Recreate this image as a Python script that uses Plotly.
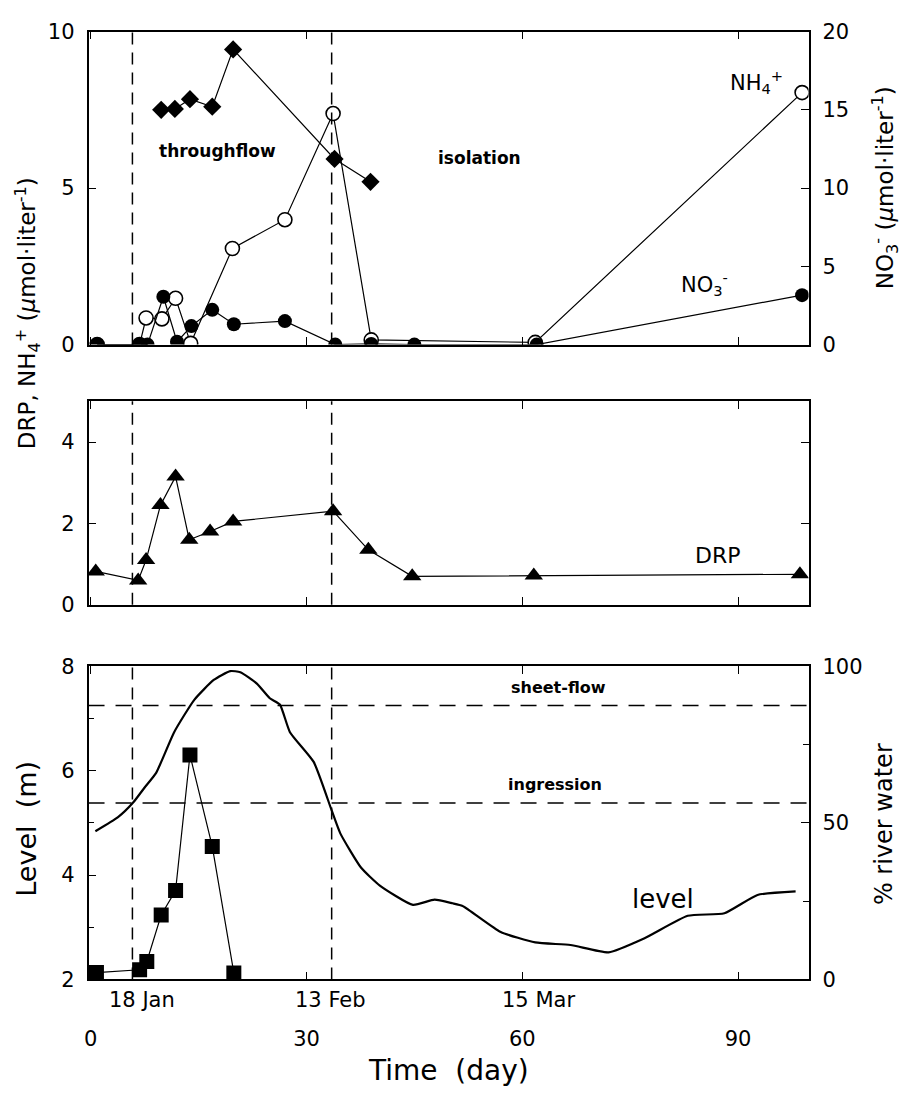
import plotly.graph_objects as go

W, H = 910, 1102
FONT = "DejaVu Sans"

# ---------------- data ----------------
# top panel
nh4_day = [0.9, 6.8, 7.7, 9.9, 11.8, 13.9, 19.7, 27.0, 33.7, 39.0, 61.8, 98.9]
nh4_val = [0.0, 0.0, 0.85, 0.82, 1.48, 0.04, 3.07, 3.99, 7.38, 0.15, 0.07, 8.05]

no3_day = [0.9, 6.8, 7.9, 10.1, 12.0, 14.0, 16.9, 19.9, 27.0, 34.0, 39.0, 45.0, 62.0, 98.9]
no3_val = [0.0, 0.0, 0.0, 3.06, 0.18, 1.18, 2.22, 1.3, 1.5, 0.0, 0.04, 0.0, 0.0, 3.16]  # right axis units

dia_day = [9.8, 11.7, 13.8, 16.9, 19.8, 33.9, 38.9]
dia_val = [7.5, 7.53, 7.84, 7.6, 9.43, 5.93, 5.2]

# middle panel (DRP)
drp_day = [0.7, 6.6, 7.7, 9.7, 11.8, 13.7, 16.6, 19.8, 33.7, 38.6, 44.7, 61.6, 98.6]
drp_val = [0.82, 0.6, 1.1, 2.45, 3.15, 1.6, 1.8, 2.05, 2.3, 1.35, 0.7, 0.72, 0.75]

# bottom panel
level_day = [0.65, 3.8, 5.9, 7.5, 9.1, 11.6, 14.4, 17.1, 19.4, 20.8, 23.1, 24.9, 26.3,
             27.7, 31.0, 33.5, 34.7, 37.6, 40.2, 44.8, 47.8, 50.3, 51.7, 57.0, 61.8,
             66.7, 72.0, 77.0, 83.0, 88.1, 92.7, 98.0]
level_val = [4.84, 5.11, 5.39, 5.68, 5.96, 6.74, 7.36, 7.74, 7.91, 7.89, 7.67, 7.39, 7.27,
             6.74, 6.17, 5.24, 4.80, 4.14, 3.80, 3.43, 3.53, 3.46, 3.41, 2.91, 2.71,
             2.66, 2.52, 2.79, 3.22, 3.27, 3.62, 3.69]

river_day = [0.8, 6.8, 7.8, 9.8, 11.8, 13.8, 16.9, 19.9]
river_pct = [2.2, 3.1, 5.7, 20.6, 28.4, 71.7, 42.5, 2.1]

phase_days = [5.8, 33.5]          # vertical dashed lines
threshold_levels = [7.25, 5.38]   # sheet-flow, ingression
threshold_names = ["sheet-flow", "ingression"]

date_labels = ["18 Jan", "13 Feb", "15 Mar"]
date_pos = [7.2, 33.3, 62.2]
day_ticks = [0, 30, 60, 90]

XR = [-0.3, 99.8]

# ---------------- layout helpers ----------------
def px_x(x):
    return x / W

def px_y(y):
    return 1 - y / H

xdom = [px_x(84), px_x(808)]
top_dom = [px_y(340), px_y(20)]
mid_dom = [px_y(606), px_y(398)]
bot_dom = [px_y(989), px_y(669)]

fig = go.Figure()

line_k = dict(color="black", width=1.2)

# top panel traces
fig.add_trace(go.Scatter(x=dia_day, y=dia_val, mode="lines+markers", xaxis="x", yaxis="y",
                         line=line_k, marker=dict(symbol="diamond", size=14, color="black")))
fig.add_trace(go.Scatter(x=nh4_day, y=nh4_val, mode="lines+markers", xaxis="x", yaxis="y",
                         line=line_k,
                         marker=dict(symbol="circle", size=14, color="white",
                                     line=dict(color="black", width=1.6))))
fig.add_trace(go.Scatter(x=no3_day, y=no3_val, mode="lines+markers", xaxis="x", yaxis="y2",
                         line=line_k, marker=dict(symbol="circle", size=14, color="black")))

# middle panel
fig.add_trace(go.Scatter(x=drp_day, y=drp_val, mode="lines+markers", xaxis="x2", yaxis="y3",
                         line=line_k, marker=dict(symbol="triangle-up", size=16, color="black")))

# bottom panel
fig.add_trace(go.Scatter(x=level_day, y=level_val, mode="lines", xaxis="x3", yaxis="y4",
                         line=dict(color="black", width=2.2, shape="spline", smoothing=0.5)))
fig.add_trace(go.Scatter(x=river_day, y=river_pct, mode="lines+markers", xaxis="x3", yaxis="y5",
                         line=line_k, marker=dict(symbol="square", size=15, color="black")))

shapes = []
for xr, yr in [("x", "y"), ("x2", "y3"), ("x3", "y4")]:
    for d in phase_days:
        shapes.append(dict(type="line", xref=xr, yref=yr + " domain", x0=d, x1=d, y0=0, y1=1,
                           line=dict(color="black", width=1.5, dash="12px,8px")))
for lv in threshold_levels:
    shapes.append(dict(type="line", xref="x3 domain", yref="y4", x0=0, x1=1, y0=lv, y1=lv,
                       line=dict(color="black", width=1.5, dash="16px,11px")))

ax_common = dict(showline=True, linecolor="black", linewidth=1.5, ticks="inside",
                 tickcolor="black", ticklen=8, tickwidth=1.3, showgrid=False, zeroline=False,
                 tickfont=dict(family=FONT, size=21, color="black"))

annotations = []

def ann(text, x, y, size, xref="paper", yref="paper", angle=0, bold=False, **kw):
    t = f"<b>{text}</b>" if bold else text
    annotations.append(dict(text=t, x=x, y=y, xref=xref, yref=yref, showarrow=False,
                            textangle=angle, font=dict(family=FONT, size=size, color="black"),
                            xanchor="center", yanchor="middle", **kw))

# text labels
ann("throughflow", 17.6, 6.2, 17, xref="x", yref="y", bold=True)
ann("isolation", 54.0, 5.95, 17, xref="x", yref="y", bold=True)
ann("NH<sub>4</sub><sup>+</sup>", 92.5, 8.4, 21, xref="x", yref="y")
ann("NO<sub>3</sub><sup>-</sup>", 85.4, 1.95, 21, xref="x", yref="y")
ann("DRP", 87.2, 1.22, 22, xref="x2", yref="y3")
ann(threshold_names[0], 65.0, 7.6, 16, xref="x3", yref="y4", bold=True)
ann(threshold_names[1], 64.6, 5.73, 16, xref="x3", yref="y4", bold=True)
ann("level", 79.6, 3.55, 26, xref="x3", yref="y4")

for t, d in zip(date_labels, date_pos):
    ann(t, d, px_y(1010), 21, xref="x3")

ann("Time\u00a0\u00a0(day)", px_x(446), px_y(1082), 28)
ann("DRP, NH<sub>4</sub><sup>+</sup>\u00a0(<i>µ</i>mol·liter<sup>-1</sup>)", px_x(22), px_y(308), 23, angle=-90)
ann("Level\u00a0\u00a0(m)", px_x(22), px_y(835), 27, angle=-90)
ann("NO<sub>3</sub><sup>-</sup>\u00a0(<i>µ</i>mol·liter<sup>-1</sup>)", px_x(884), px_y(180), 23, angle=-90)
ann("%\u00a0river\u00a0water", px_x(884), px_y(830), 24, angle=-90)

fig.update_layout(
    width=W, height=H, margin=dict(l=0, r=0, t=0, b=0),
    paper_bgcolor="white", plot_bgcolor="white", showlegend=False,
    xaxis=dict(domain=xdom, anchor="y", range=XR, tickvals=day_ticks, showticklabels=False,
               mirror="ticks", **ax_common),
    yaxis=dict(domain=top_dom, anchor="x", range=[0, 10], tickvals=[0, 5, 10], mirror=True,
               ticklabelstandoff=8, **ax_common),
    yaxis2=dict(overlaying="y", side="right", anchor="x", range=[0, 20],
                tickvals=[0, 5, 10, 15, 20], ticklabelstandoff=8, **ax_common),
    xaxis2=dict(domain=xdom, anchor="y3", range=XR, tickvals=day_ticks, showticklabels=False,
                mirror="ticks", **ax_common),
    yaxis3=dict(domain=mid_dom, anchor="x2", range=[0, 5], tickvals=[0, 2, 4], mirror="ticks",
                ticklabelstandoff=8, **ax_common),
    xaxis3=dict(domain=xdom, anchor="y4", range=XR, tickvals=day_ticks,
                ticktext=[str(v) for v in day_ticks], mirror="ticks", ticklabelstandoff=40,
                **ax_common),
    yaxis4=dict(domain=bot_dom, anchor="x3", range=[2, 8], tickvals=[2, 4, 6, 8], mirror=True,
                minor=dict(tickvals=[3, 5, 7], ticks="inside", ticklen=6, tickcolor="black"),
                ticklabelstandoff=8, **ax_common),
    yaxis5=dict(overlaying="y4", side="right", anchor="x3", range=[0, 100],
                tickvals=[0, 50, 100], ticklabelstandoff=8,
                minor=dict(tickvals=[25, 75], ticks="inside", ticklen=6, tickcolor="black"),
                **ax_common),
    shapes=shapes, annotations=annotations,
)

fig.write_html("out.html")
